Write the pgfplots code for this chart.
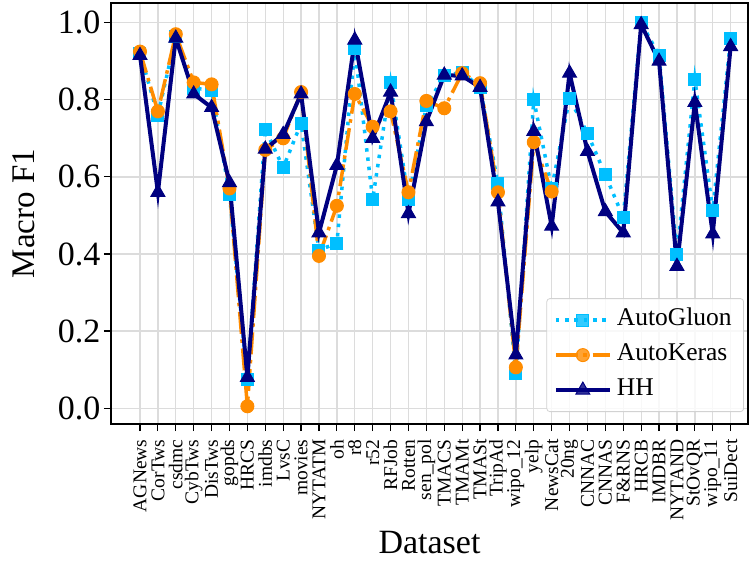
\documentclass[border=0pt]{standalone}
\usepackage{fontspec}
\setmainfont{Liberation Serif}
\usepackage{pgfplots}
\pgfplotsset{compat=1.18}
\definecolor{agc}{RGB}{0,191,255}
\definecolor{akc}{RGB}{255,140,0}
\definecolor{hhc}{RGB}{0,0,128}
\definecolor{gridc}{RGB}{220,220,220}
\begin{document}
\begin{tikzpicture}
\begin{axis}[
 name=ax,
 scale only axis, width=637pt, height=421pt,
 xmin=-1.62, xmax=33.97, ymin=-0.041, ymax=1.051,
 xtick={0,...,33},
 xticklabels={AGNews,CorTws,csdmc,CybTws,DisTws,gopds,HRCS,imdbs,LvsC,movies,NYTATM,oh,r8,r52,RFJob,Rotten,sen\_pol,TMACS,TMAMt,TMASt,TripAd,wipo\_12,yelp,NewsCat,20ng,CNNAC,CNNAS,F\&RNS,HRCB,IMDBR,NYTAND,StOvQR,wipo\_11,SuiDect},
 ytick={0,0.2,0.4,0.6,0.8,1.0},
 yticklabel style={/pgf/number format/.cd, fixed, fixed zerofill, precision=1, /tikz/.cd, font=\fontsize{34}{34}\selectfont},
 /pgf/number format/assume math mode=true,
 xticklabel style={rotate=90, anchor=east, font=\fontsize{19.5}{19.5}\selectfont},
 xticklabel shift=5pt,
 tick align=outside, xtick pos=bottom, ytick pos=left,
 major tick length=7pt,
 tick style={black, line width=1.2pt},
 axis line style={black, line width=1.2pt},
 grid=major,
 major grid style={gridc, line width=1.3pt},
 xlabel={Dataset},
 ylabel={Macro F1},
 xlabel style={at={(axis description cs:0.5,-0.3065)}, anchor=base, font=\fontsize{34}{34}\selectfont},
 ylabel style={at={(axis description cs:-0.1146,0.5)}, anchor=south, font=\fontsize{33}{33}\selectfont},
 legend cell align=left,
 legend style={at={(rel axis cs:0.9937,0.0285)}, anchor=south east, draw=gray!35, line width=0.8pt, rounded corners=3pt, fill=white, fill opacity=0.8, text opacity=1, font=\fontsize{25.5}{25.5}\selectfont, inner xsep=7pt, inner ysep=4pt, nodes={text height=17pt, text depth=6pt, inner ysep=6pt, inner xsep=5pt}},
 legend image code/.code={\draw[mark repeat=2, mark phase=2] plot coordinates {(0pt,0pt) (27pt,0pt) (54pt,0pt)};},
]
\addplot[agc, line width=3.5pt, dash pattern=on 3.5pt off 5.8pt, mark=square*, mark size=6pt, mark options={solid, line width=1pt}] coordinates {
(0,0.920) (1,0.760) (2,0.965) (3,0.830) (4,0.825) (5,0.555) (6,0.075) (7,0.723) (8,0.624) (9,0.739)
(10,0.410) (11,0.428) (12,0.932) (13,0.542) (14,0.845) (15,0.542) (16,0.785) (17,0.862) (18,0.872) (19,0.832)
(20,0.582) (21,0.089) (22,0.800) (23,0.570) (24,0.804) (25,0.713) (26,0.605) (27,0.495) (28,1.000) (29,0.915)
(30,0.398) (31,0.853) (32,0.514) (33,0.958)};
\addlegendentry{AutoGluon}
\addplot[akc, line width=3.5pt, dash pattern=on 22pt off 5.6pt on 3.5pt off 5.6pt, mark=*, mark size=6.5pt, mark options={solid, line width=1pt}] coordinates {
(0,0.925) (1,0.770) (2,0.970) (3,0.845) (4,0.840) (5,0.570) (6,0.005) (7,0.670) (8,0.700) (9,0.820)
(10,0.395) (11,0.525) (12,0.815) (13,0.730) (14,0.770) (15,0.560) (16,0.797) (17,0.778) (18,0.869) (19,0.843)
(20,0.560) (21,0.106) (22,0.690) (23,0.562)};
\addlegendentry{AutoKeras}
\addplot[hhc, line width=4pt, mark=triangle*, mark size=8pt, mark options={solid, line width=1pt}] coordinates {
(0,0.915) (1,0.560) (2,0.960) (3,0.815) (4,0.780) (5,0.585) (6,0.080) (7,0.672) (8,0.710) (9,0.815)
(10,0.455) (11,0.630) (12,0.955) (13,0.700) (14,0.820) (15,0.505) (16,0.743) (17,0.864) (18,0.862) (19,0.832)
(20,0.535) (21,0.138) (22,0.718) (23,0.472) (24,0.869) (25,0.666) (26,0.510) (27,0.455) (28,0.995) (29,0.900)
(30,0.368) (31,0.793) (32,0.452) (33,0.938)};
\addlegendentry{HH}
\end{axis}
\pgfresetboundingbox
\useasboundingbox ([xshift=-111pt,yshift=-136pt]ax.south west) rectangle ([xshift=3pt,yshift=3pt]ax.north east);
\end{tikzpicture}
\end{document}
